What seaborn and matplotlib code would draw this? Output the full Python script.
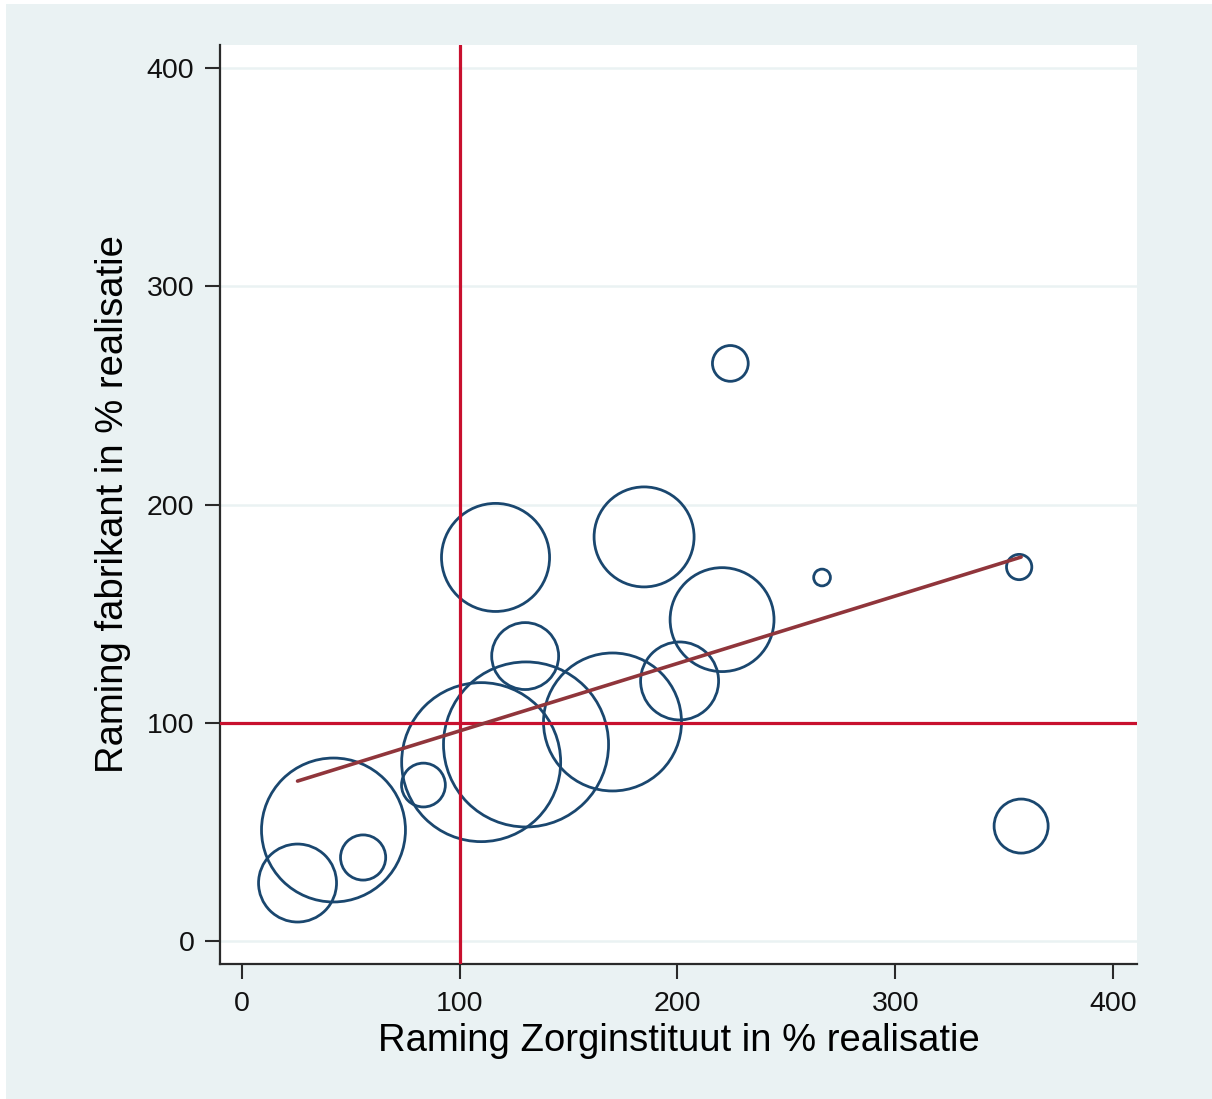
import numpy as np
import pandas as pd
import matplotlib
matplotlib.use("Agg")
import matplotlib.pyplot as plt
import seaborn as sns
from matplotlib.patches import Rectangle

# ---- data ----
zorginstituut = [25.6, 42.1, 55.7, 83.4, 109.9, 130.5, 130.1, 116.5,
                 170.2, 184.7, 201.0, 220.5, 224.3, 266.4, 356.9, 357.8]
fabrikant = [26.6, 50.9, 38.3, 71.5, 82.0, 90.1, 130.6, 175.8,
             100.4, 185.2, 119.2, 147.3, 264.7, 166.6, 171.4, 52.7]
# bubble weight (area proportional)
gewicht = [15.2, 51.8, 5.1, 4.8, 63.2, 68.1, 11.2, 29.2,
           47.6, 25.0, 15.2, 27.0, 3.2, 0.7, 1.6, 7.3]
ticks = [0, 100, 200, 300, 400]
ref_x = [100]
ref_y = [100]

df = pd.DataFrame({"x": zorginstituut, "y": fabrikant, "w": gewicht})

NAVY = "#1a476f"
RED = "#c8102e"
FIT = "#90353b"
BG = "#eaf2f3"

sns.set_style("white")
plt.rcParams["font.family"] = ["Liberation Sans", "DejaVu Sans"]

fig = plt.figure(figsize=(12.12, 10.99), dpi=100)
fig.patch.set_facecolor("white")
fig.patches.append(Rectangle((6 / 1212, 0), 1 - 6 / 1212, 1 - 4 / 1099,
                             transform=fig.transFigure, facecolor=BG,
                             edgecolor="none", zorder=-10))

ax = fig.add_axes([220 / 1212, 1 - 964 / 1099, (1137 - 220) / 1212, (964 - 45) / 1099])
ax.set_facecolor("white")

# px radius^2 per weight unit -> points^2
px2pt = 0.72
wmax = max(gewicht)
smax = wmax * 100 * (2 * px2pt) ** 2
sns.scatterplot(data=df, x="x", y="y", size="w", sizes=(0, smax),
                size_norm=(0, wmax), legend=False, ax=ax, zorder=2,
                marker="o")
coll = ax.collections[0]
coll.set_facecolor("none")
coll.set_edgecolor(NAVY)
coll.set_linewidth(2.0)

for v in ref_x:
    ax.axvline(v, color=RED, lw=2.3, zorder=3)
for v in ref_y:
    ax.axhline(v, color=RED, lw=2.3, zorder=3)

sns.regplot(data=df, x="x", y="y", scatter=False, ci=None, truncate=True,
            ax=ax, line_kws=dict(color=FIT, lw=2.6, zorder=4))

ax.set_xlim(-10.0, 411.0)
ax.set_ylim(-10.5, 410.6)
ax.set_xticks(ticks)
ax.set_yticks(ticks)
ax.set_xticklabels([str(t) for t in ticks])
ax.set_yticklabels([str(t) for t in ticks])
for t in ticks:
    ax.axhline(t, color=BG, lw=1.8, zorder=0.5)

for s in ["top", "right"]:
    ax.spines[s].set_visible(False)
for s in ["left", "bottom"]:
    ax.spines[s].set_color("#2a2a2a")
    ax.spines[s].set_linewidth(1.6)

ax.tick_params(axis="both", which="major", length=10.5, width=1.5,
               color="#2a2a2a", labelsize=20.5, labelcolor="#111111",
               direction="out", bottom=True, left=True)
ax.tick_params(axis="x", pad=9)
ax.tick_params(axis="y", pad=8)

ax.set_xlabel("Raming Zorginstituut in % realisatie", fontsize=27.5,
              color="#000000", labelpad=4)
ax.set_ylabel("Raming fabrikant in % realisatie", fontsize=27.5,
              color="#000000", labelpad=11)
ax.grid(False)

fig.savefig("out.png", dpi=100, facecolor=fig.get_facecolor())
